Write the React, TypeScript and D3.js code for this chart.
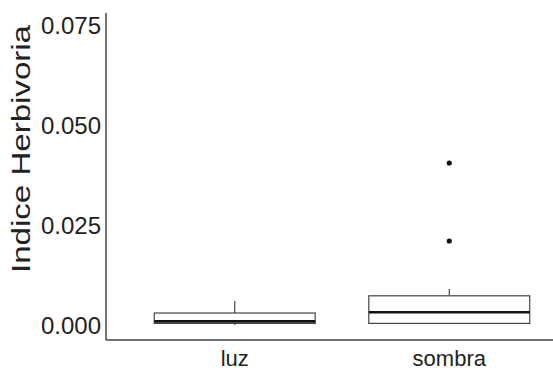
import React from "react";
import * as d3 from "d3";

const categories = ["luz", "sombra"];
const lowerWhisker = [0.0, 0.0003];
const q1 = [0.0004, 0.0004];
const medians = [0.0009, 0.0032];
const q3 = [0.003, 0.0073];
const upperWhisker = [0.006, 0.009];
const outliers: [string, number][] = [
  ["sombra", 0.0405],
  ["sombra", 0.021],
];
const yTicks = [0, 0.025, 0.05, 0.075];

export default function App() {
  const W = 553;
  const H = 371;
  const y = d3.scaleLinear().domain([0, 0.075]).range([325, 25]);
  const xi = d3.scaleLinear().domain([0.4, 2.6]).range([106, 578]);
  const xc = (c: string) => xi(categories.indexOf(c) + 1);
  const boxW = xi(0.75) - xi(0);
  const fmt = d3.format(".3f");
  const font = "Liberation Sans, Arial, sans-serif";

  return (
    <svg
      width={W}
      height={H}
      style={{ position: "absolute", left: 0, top: 0, background: "#fff" }}
    >
      {/* axes */}
      <line x1={106} y1={13} x2={106} y2={340} stroke="#444" strokeWidth={1.5} />
      <line x1={106} y1={340} x2={553} y2={340} stroke="#444" strokeWidth={1.5} />
      {/* y tick labels */}
      {yTicks.map((t) => (
        <text
          key={t}
          x={101}
          y={y(t) + 8.6}
          textAnchor="end"
          fontSize={24}
          fontFamily={font}
          fill="#222"
        >
          {fmt(t)}
        </text>
      ))}
      {/* x labels */}
      {categories.map((c) => (
        <text
          key={c}
          x={xc(c)}
          y={366}
          textAnchor="middle"
          fontSize={22}
          fontFamily={font}
          fill="#222"
        >
          {c}
        </text>
      ))}
      {/* y title */}
      <text
        transform={`translate(30,149) rotate(-90)`}
        textAnchor="middle"
        fontSize={26}
        fontFamily={font}
        fill="#222"
        textLength={248}
        lengthAdjust="spacingAndGlyphs"
      >
        Indice Herbivoria
      </text>
      {/* boxes */}
      {categories.map((c, i) => {
        const cx = xc(c);
        return (
          <g key={c}>
            <line x1={cx} x2={cx} y1={y(q3[i])} y2={y(upperWhisker[i])} stroke="#444" strokeWidth={1.2} />
            <line x1={cx} x2={cx} y1={y(q1[i])} y2={y(lowerWhisker[i])} stroke="#444" strokeWidth={1.2} />
            <rect
              x={cx - boxW / 2}
              y={y(q3[i])}
              width={boxW}
              height={y(q1[i]) - y(q3[i])}
              fill="#fff"
              stroke="#444"
              strokeWidth={1.2}
            />
            <line
              x1={cx - boxW / 2}
              x2={cx + boxW / 2}
              y1={y(medians[i])}
              y2={y(medians[i])}
              stroke="#111"
              strokeWidth={2.6}
            />
          </g>
        );
      })}
      {outliers.map(([c, v], k) => (
        <circle key={k} cx={xc(c)} cy={y(v)} r={2.6} fill="#111" />
      ))}
    </svg>
  );
}
